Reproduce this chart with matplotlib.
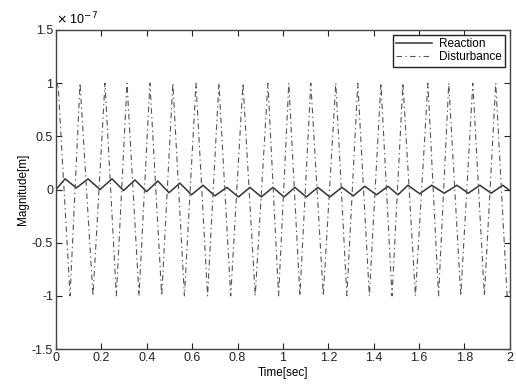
import matplotlib
matplotlib.use("Agg")
import matplotlib.pyplot as plt

plt.rcParams['font.family'] = ['Liberation Sans', 'DejaVu Sans']
plt.rcParams['axes.unicode_minus'] = False

# values in units of 1e-7 m
# Disturbance: extrema (time [s], magnitude)
dist_t = [0.000, 0.009, 0.062, 0.106, 0.163, 0.216, 0.266, 0.313, 0.366, 0.414, 0.466,
          0.515, 0.566, 0.617, 0.668, 0.718, 0.770, 0.824, 0.878, 0.934, 0.981,
          1.026, 1.075, 1.123, 1.178, 1.233, 1.282, 1.330, 1.381, 1.432, 1.481,
          1.529, 1.584, 1.639, 1.686, 1.731, 1.784, 1.837, 1.888, 1.938, 1.988, 2.000]
dist_y = [0.95, 1.0, -1.0, 1.0, -1.0, 1.0, -1.0, 1.0, -1.0, 1.0, -1.0,
          1.0, -1.0, 1.0, -1.0, 1.0, -1.0, 1.0, -1.0, 1.0, -1.0,
          1.0, -1.0, 1.0, -1.0, 1.0, -1.0, 1.0, -1.0, 1.0, -1.0,
          1.0, -1.0, 1.0, -1.0, 1.0, -1.0, 1.0, -1.0, 1.0, -1.0, -0.95]

# Reaction: extrema (time [s], magnitude)
react_t = [0.000, 0.040, 0.090, 0.141, 0.194, 0.247, 0.298, 0.348, 0.399, 0.449, 0.498,
           0.546, 0.597, 0.648, 0.700, 0.753, 0.804, 0.855, 0.905, 0.956, 1.005,
           1.053, 1.103, 1.154, 1.207, 1.260, 1.310, 1.361, 1.412, 1.463, 1.507,
           1.551, 1.603, 1.656, 1.711, 1.767, 1.817, 1.868, 1.918, 1.969, 2.000]
react_y = [0.00, 0.10, 0.015, 0.10, 0.00, 0.10, -0.01, 0.09, -0.02, 0.08, -0.03,
           0.06, -0.05, 0.04, -0.06, 0.02, -0.07, 0.02, -0.07, 0.02, -0.07,
           0.02, -0.07, 0.02, -0.07, 0.02, -0.06, 0.03, -0.05, 0.03, -0.05,
           0.04, -0.04, 0.04, -0.035, 0.04, -0.035, 0.04, -0.035, 0.04, -0.01]

x_ticks = [0, 0.2, 0.4, 0.6, 0.8, 1.0, 1.2, 1.4, 1.6, 1.8, 2.0]
x_labels = ["0", "0.2", "0.4", "0.6", "0.8", "1", "1.2", "1.4", "1.6", "1.8", "2"]
y_ticks = [-1.5, -1.0, -0.5, 0, 0.5, 1.0, 1.5]
y_labels = ["-1.5", "-1", "-0.5", "0", "0.5", "1", "1.5"]

fig = plt.figure(figsize=(5.16, 3.84), dpi=100)
ax = fig.add_axes([0.1085, 0.091, 0.8795, 0.831])

ax.plot(react_t, react_y, color='#333333', lw=1.1, linestyle='-', label='Reaction')
ax.plot(dist_t, dist_y, color='#555555', lw=0.8,
        linestyle=(0, (5, 3, 1.2, 3)), label='Disturbance')

ax.set_xlim(0, 2)
ax.set_ylim(-1.5, 1.5)
ax.set_xticks(x_ticks)
ax.set_xticklabels(x_labels)
ax.set_yticks(y_ticks)
ax.set_yticklabels(y_labels)
ax.text(0.0, 1.008, r'$\times$ 10$^{-7}$', transform=ax.transAxes, fontsize=9,
        ha='left', va='bottom')

ax.tick_params(direction='in', top=True, right=True, labelsize=9, length=4,
               width=0.8, pad=2, colors='#222222')
for s in ax.spines.values():
    s.set_linewidth(1.0)
    s.set_color('#444444')

ax.set_xlabel('Time[sec]', fontsize=8.5, labelpad=2)
ax.set_ylabel('Magnitude[m]', fontsize=8.5, labelpad=2)

leg = ax.legend(loc='upper right', fontsize=8.5, fancybox=False, framealpha=1,
                edgecolor='#222222', borderaxespad=0.4, handlelength=3.0,
                borderpad=0.3, labelspacing=0.1, handletextpad=0.6)
leg.get_frame().set_linewidth(1.0)

fig.savefig('out.png', dpi=100)
